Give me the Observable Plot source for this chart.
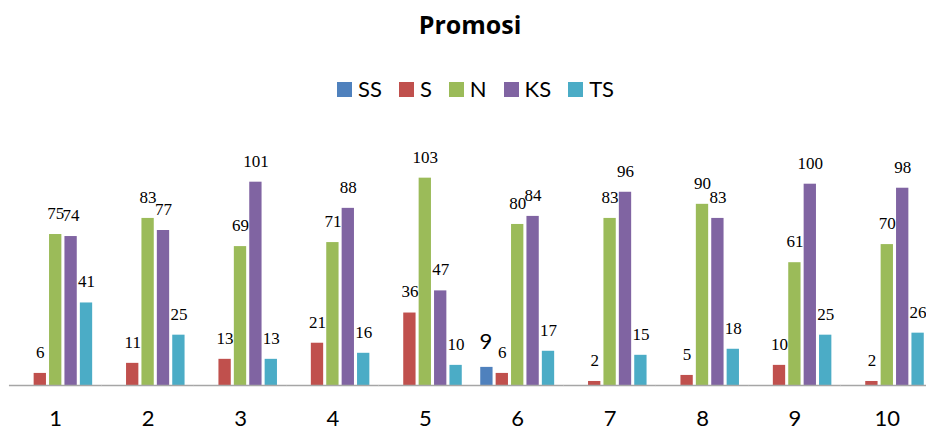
<!DOCTYPE html>
<html>
<head>
<meta charset="utf-8">
<script src="https://cdn.jsdelivr.net/npm/d3@7"></script>
<script src="https://cdn.jsdelivr.net/npm/@observablehq/plot@0.6"></script>
<style>
  body { margin: 0; background: #fff; }
  #wrap { position: relative; width: 926px; height: 430px; overflow: hidden; background: #fff; }
  #title { position: absolute; left: 0; width: 940px; top: 12px; text-align: center;
           font-family: "Open Sans", sans-serif; font-weight: 700; font-size: 25px; line-height: 25px; color: #000; }
  #legend { position: absolute; left: 0; width: 951px; top: 78px; height: 22px; display: flex; justify-content: center;
            align-items: center; gap: 17px; font-family: Lato, sans-serif; font-size: 22px; line-height: 22px; color: #000; }
  #legend .item { display: flex; align-items: center; gap: 6px; }
  #legend .sw { width: 15px; height: 15px; display: inline-block; }
  #chart { position: absolute; left: 0; top: 0; }
</style>
</head>
<body>
<div id="wrap">
  <div id="chart"></div>
  <div id="title"></div>
  <div id="legend"></div>
</div>
<script>
const chartTitle = "Promosi";
const groups = ["1", "2", "3", "4", "5", "6", "7", "8", "9", "10"];
const series = ["SS", "S", "N", "KS", "TS"];
const colors = ["#4F81BD", "#C0504D", "#9BBB59", "#8064A2", "#4BACC6"];
const SS = [0, 0, 0, 0, 0, 9, 0, 0, 0, 0];
const S  = [6, 11, 13, 21, 36, 6, 2, 5, 10, 2];
const N  = [75, 83, 69, 71, 103, 80, 83, 90, 61, 70];
const KS = [74, 77, 101, 88, 47, 84, 96, 83, 100, 98];
const TS = [41, 25, 13, 16, 10, 17, 15, 18, 25, 26];

const valuesBySeries = {SS, S, N, KS, TS};
const rows = [];
groups.forEach((g, i) => series.forEach(s => rows.push({group: g, series: s, value: valuesBySeries[s][i]})));
const shown = rows.filter(d => d.value > 0);

document.getElementById("title").textContent = chartTitle;
const legend = document.getElementById("legend");
series.forEach((s, i) => {
  const item = document.createElement("div");
  item.className = "item";
  const sw = document.createElement("span");
  sw.className = "sw";
  sw.style.background = colors[i];
  const t = document.createElement("span");
  t.textContent = s;
  item.appendChild(sw);
  item.appendChild(t);
  legend.appendChild(item);
});

const pxPerUnit = 2.013;
const chart = Plot.plot({
  width: 926,
  height: 430,
  marginLeft: 0,
  marginRight: 0,
  marginTop: 0,
  marginBottom: 45,
  style: {background: "transparent", overflow: "visible"},
  fx: {domain: groups, range: [9, 933], paddingInner: 0.2, paddingOuter: 0.1, round: false, label: null, axis: null},
  x: {domain: series, paddingInner: 0.2, paddingOuter: 0, round: false, axis: null},
  y: {domain: [0, 110], range: [385, 385 - 110 * pxPerUnit], axis: null},
  color: {domain: series, range: colors},
  marks: [
    Plot.barY(shown, {fx: "group", x: "series", y: "value", fill: "series"}),
    Plot.ruleY([0], {stroke: "#a6a6a6", strokeWidth: 1.5, insetLeft: -9.3, insetRight: -9.3}),
    Plot.text(shown.filter(d => d.series !== "SS"), {
      fx: "group", x: "series", y: "value", text: d => String(d.value),
      dy: -21, fontFamily: "Liberation Serif", fontSize: 17, fill: "#000"
    }),
    Plot.text(shown.filter(d => d.series === "SS"), {
      fx: "group", x: "series", y: "value", text: d => String(d.value),
      dy: -25, dx: -1, fontFamily: "Lato", fontSize: 22, fill: "#000"
    }),
    Plot.axisFx({anchor: "bottom", tickSize: 0, tickPadding: 25, label: null,
      fontFamily: "Lato", fontSize: 22, fill: "#000"})
  ]
});
document.getElementById("chart").appendChild(chart);
</script>
</body>
</html>
